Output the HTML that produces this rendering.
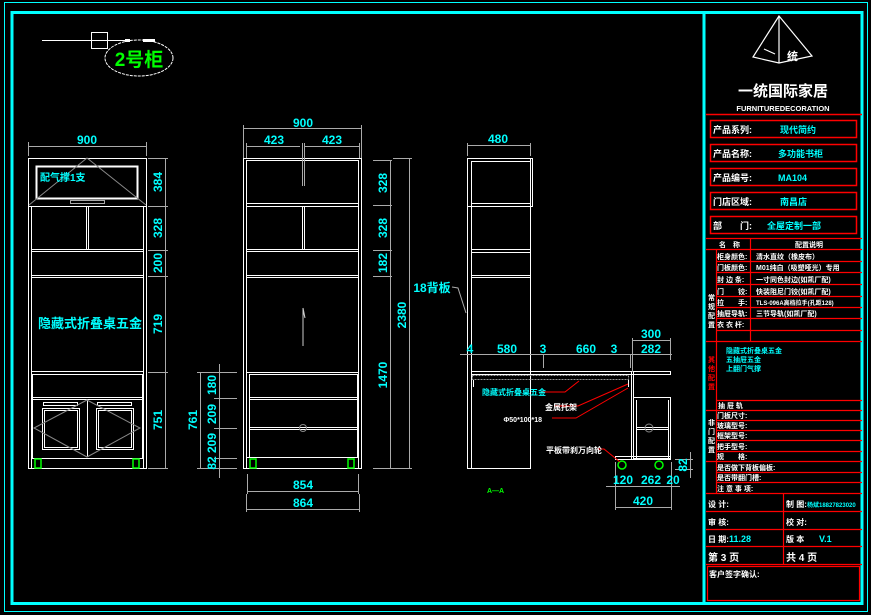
<!DOCTYPE html>
<html><head><meta charset="utf-8"><style>
html,body{margin:0;padding:0;background:#000;}
svg{display:block}
text{font-family:"Liberation Sans","Noto Sans CJK SC",sans-serif;font-weight:bold}
.c{fill:#00ffff}.w{fill:#fff}.g{fill:#00ff00}.r{fill:#ff0000}
</style></head><body>
<svg width="871" height="615" viewBox="0 0 871 615" xmlns="http://www.w3.org/2000/svg">
<rect width="871" height="615" fill="#000"/>
<!-- borders -->
<rect x="4.5" y="2.5" width="863" height="609" fill="none" stroke="#00ffff" stroke-width="1"/>
<rect x="12" y="12.5" width="850" height="591" fill="none" stroke="#00ffff" stroke-width="3"/>
<line x1="704" y1="12" x2="704" y2="603" stroke="#00ffff" stroke-width="3"/>

<!-- label 2号柜 -->
<line x1="42" y1="40.5" x2="130" y2="40.5" stroke="#fff"/>
<rect x="91.5" y="32.5" width="16" height="16" fill="none" stroke="#fff"/>
<rect x="125" y="39" width="5" height="3" fill="#fff"/><rect x="143" y="39" width="12" height="3" fill="#fff"/>
<ellipse cx="139" cy="58" rx="34" ry="18" fill="none" stroke="#fff" stroke-dasharray="3,1"/>
<text x="139" y="66" class="g" font-size="19" text-anchor="middle">2号柜</text>

<g stroke="#fff" fill="none" stroke-width="1">
<!-- left elevation -->
<rect x="28.5" y="158.5" width="118" height="310"/>
<rect x="36.5" y="166.5" width="101" height="32" stroke-width="2"/>
<rect x="70.5" y="200.5" width="34" height="3" stroke="#aaa"/>
<polyline points="29,205 87,158 146,205" stroke="#888"/>
<line x1="29" y1="206.5" x2="146" y2="206.5"/>
<line x1="31.5" y1="207" x2="31.5" y2="468"/><line x1="143.5" y1="207" x2="143.5" y2="468"/>
<line x1="31" y1="249.5" x2="144" y2="249.5"/><line x1="31" y1="251.5" x2="144" y2="251.5"/>
<line x1="31" y1="275.5" x2="144" y2="275.5"/><line x1="31" y1="277.5" x2="144" y2="277.5"/>
<line x1="31" y1="371.5" x2="144" y2="371.5"/>
<line x1="86.5" y1="207" x2="86.5" y2="250"/><line x1="88.5" y1="207" x2="88.5" y2="250"/>
<rect x="32.5" y="374.5" width="110" height="84"/>
<line x1="33" y1="397.5" x2="142" y2="397.5"/><line x1="33" y1="399.5" x2="142" y2="399.5"/>
<line x1="87.5" y1="400" x2="87.5" y2="457"/>
<rect x="43.5" y="402.5" width="34" height="3"/><rect x="97.5" y="402.5" width="34" height="3"/>
<rect x="42.5" y="408.5" width="37" height="41"/><rect x="44.5" y="410.5" width="33" height="37"/>
<rect x="96.5" y="408.5" width="37" height="41"/><rect x="98.5" y="410.5" width="33" height="37"/>
<polyline points="87,400 34,428 87,457 140,428 87,400" stroke="#888"/>
<!-- dims left -->
<g stroke="#aaa">
<line x1="28" y1="146.5" x2="147" y2="146.5"/><line x1="28.5" y1="142" x2="28.5" y2="156"/><line x1="146.5" y1="142" x2="146.5" y2="156"/>
<line x1="165.5" y1="158" x2="165.5" y2="469"/>
<line x1="148" y1="158.5" x2="168" y2="158.5"/><line x1="148" y1="206.5" x2="168" y2="206.5"/><line x1="148" y1="250.5" x2="168" y2="250.5"/><line x1="148" y1="276.5" x2="168" y2="276.5"/><line x1="148" y1="372.5" x2="168" y2="372.5"/><line x1="148" y1="468.5" x2="168" y2="468.5"/>
</g>

<!-- middle elevation -->
<rect x="243.5" y="158.5" width="118" height="310"/>
<rect x="246.5" y="160.5" width="112" height="308"/>
<line x1="247" y1="203.5" x2="359" y2="203.5"/><line x1="247" y1="206.5" x2="359" y2="206.5"/>
<line x1="247" y1="249.5" x2="359" y2="249.5"/><line x1="247" y1="251.5" x2="359" y2="251.5"/>
<line x1="247" y1="275.5" x2="359" y2="275.5"/><line x1="247" y1="277.5" x2="359" y2="277.5"/>
<line x1="247" y1="372.5" x2="359" y2="372.5"/>
<line x1="302.5" y1="207" x2="302.5" y2="250"/><line x1="304.5" y1="207" x2="304.5" y2="250"/>
<line x1="249.5" y1="374" x2="249.5" y2="457"/><line x1="357.5" y1="374" x2="357.5" y2="457"/>
<line x1="249" y1="374.5" x2="358" y2="374.5"/>
<line x1="249" y1="397.5" x2="358" y2="397.5"/><line x1="249" y1="399.5" x2="358" y2="399.5"/>
<line x1="249" y1="427.5" x2="358" y2="427.5"/><line x1="249" y1="429.5" x2="358" y2="429.5"/>
<line x1="247" y1="457.5" x2="359" y2="457.5"/>
<circle cx="303" cy="428" r="3.5" stroke="#888"/>
<polyline points="303,308 305,318 303,310" stroke="#ccc"/><line x1="303" y1="308" x2="303" y2="346" stroke="#ccc"/>
<g stroke="#aaa">
<line x1="243" y1="128.5" x2="362" y2="128.5"/><line x1="243.5" y1="125" x2="243.5" y2="158"/><line x1="361.5" y1="125" x2="361.5" y2="158"/>
<line x1="246" y1="146.5" x2="300" y2="146.5"/><line x1="305" y1="146.5" x2="359" y2="146.5"/>
<line x1="246.5" y1="143" x2="246.5" y2="158"/><line x1="302.5" y1="143" x2="302.5" y2="186"/><line x1="304.5" y1="143" x2="304.5" y2="186"/><line x1="359.5" y1="143" x2="359.5" y2="158"/>
<line x1="390.5" y1="160" x2="390.5" y2="469"/>
<line x1="373" y1="160.5" x2="392" y2="160.5"/><line x1="373" y1="205.5" x2="392" y2="205.5"/><line x1="373" y1="250.5" x2="392" y2="250.5"/><line x1="373" y1="276.5" x2="392" y2="276.5"/><line x1="373" y1="468.5" x2="412" y2="468.5"/>
<line x1="409.5" y1="158" x2="409.5" y2="469"/><line x1="393" y1="158.5" x2="412" y2="158.5"/>
<line x1="200.5" y1="372" x2="200.5" y2="469"/><line x1="197" y1="372.5" x2="237" y2="372.5"/><line x1="197" y1="468.5" x2="237" y2="468.5"/>
<line x1="219.5" y1="364" x2="219.5" y2="478"/>
<line x1="214" y1="398.5" x2="237" y2="398.5"/><line x1="214" y1="428.5" x2="237" y2="428.5"/><line x1="214" y1="458.5" x2="237" y2="458.5"/>
<line x1="247" y1="491.5" x2="358" y2="491.5"/><line x1="247.5" y1="474" x2="247.5" y2="494"/><line x1="358.5" y1="474" x2="358.5" y2="494"/>
<line x1="246" y1="509.5" x2="359" y2="509.5"/><line x1="246.5" y1="494" x2="246.5" y2="512"/><line x1="359.5" y1="494" x2="359.5" y2="512"/>
<polyline points="452,287 458,288 466,313" />
</g>

<!-- side view -->
<rect x="467.5" y="158.5" width="63" height="310"/>
<line x1="471.5" y1="162" x2="471.5" y2="468"/>
<rect x="467.5" y="158.5" width="65" height="48"/>
<line x1="471" y1="161.5" x2="531" y2="161.5"/>
<line x1="471" y1="203.5" x2="531" y2="203.5"/>
<line x1="471" y1="249.5" x2="531" y2="249.5"/><line x1="471" y1="252.5" x2="531" y2="252.5"/>
<line x1="471" y1="275.5" x2="531" y2="275.5"/><line x1="471" y1="277.5" x2="531" y2="277.5"/>
<rect x="471.5" y="371.5" width="199" height="3"/>
<rect x="472.5" y="375.5" width="156" height="4" stroke="#999" stroke-dasharray="2,1"/>
<line x1="473.5" y1="380" x2="473.5" y2="387"/><line x1="628.5" y1="380" x2="628.5" y2="387"/>
<line x1="631.5" y1="372" x2="631.5" y2="459"/><line x1="633.5" y1="372" x2="633.5" y2="459"/>
<rect x="633.5" y="397.5" width="37" height="61"/><line x1="636.5" y1="400" x2="636.5" y2="458"/><line x1="668.5" y1="400" x2="668.5" y2="458"/>
<line x1="636" y1="427.5" x2="668" y2="427.5"/><line x1="636" y1="429.5" x2="668" y2="429.5"/>
<circle cx="649" cy="428" r="4" stroke="#888"/>
<rect x="615.5" y="456.5" width="55" height="3"/>
<g stroke="#aaa">
<line x1="467" y1="145.5" x2="531" y2="145.5"/><line x1="467.5" y1="143" x2="467.5" y2="156"/><line x1="530.5" y1="143" x2="530.5" y2="156"/>
<line x1="460" y1="354.5" x2="672" y2="354.5"/>
<line x1="543.5" y1="354" x2="543.5" y2="368"/><line x1="630.5" y1="354" x2="630.5" y2="368"/>
<line x1="632" y1="340.5" x2="671" y2="340.5"/><line x1="632.5" y1="338" x2="632.5" y2="372"/><line x1="670.5" y1="338" x2="670.5" y2="360"/>
<line x1="606" y1="486.5" x2="680" y2="486.5"/><line x1="615.5" y1="462" x2="615.5" y2="510"/><line x1="671.5" y1="462" x2="671.5" y2="510"/>
<line x1="615" y1="507.5" x2="671" y2="507.5"/>
<line x1="675" y1="459.5" x2="693" y2="459.5"/><line x1="675" y1="469.5" x2="693" y2="469.5"/><line x1="690.5" y1="452" x2="690.5" y2="478"/>
</g>
</g>
<!-- feet -->
<g stroke="#00ff00" fill="none" stroke-width="1.5">
<rect x="35" y="459" width="6" height="9"/><rect x="133" y="459" width="6" height="9"/>
<rect x="250" y="459" width="6" height="9"/><rect x="348" y="459" width="6" height="9"/>
<circle cx="622" cy="465" r="4"/><circle cx="659" cy="465" r="4"/>
</g>
<!-- red leaders -->
<g stroke="#ff0000" fill="none">
<polyline points="541,392 565,392 579,381"/>
<polyline points="554,406 578,406 628,384"/>
<polyline points="552,418 576,418 628,388"/>
<polyline points="597,449 604,449 620,462"/>
</g>

<!-- texts -->
<text x="40" y="181" class="c" font-size="10">配气撑1支</text>
<text x="90" y="328" class="c" font-size="13" text-anchor="middle">隐藏式折叠桌五金</text>
<g class="c" font-size="12" text-anchor="middle">
<text x="87" y="144">900</text>
<text x="303" y="127">900</text><text x="274" y="144">423</text><text x="332" y="144">423</text>
<text x="498" y="143">480</text>
<text x="303" y="489">854</text><text x="303" y="507">864</text>
<text x="470" y="353">4</text><text x="507" y="353">580</text><text x="543" y="353">3</text><text x="586" y="353">660</text><text x="614" y="353">3</text>
<text x="651" y="338">300</text><text x="651" y="353">282</text>
<text x="623" y="484">120</text><text x="651" y="484">262</text><text x="673" y="484">20</text>
<text x="643" y="505">420</text>
<text x="432" y="292">18背板</text>
<g font-size="12">
<text transform="translate(162,182) rotate(-90)">384</text>
<text transform="translate(162,228) rotate(-90)">328</text>
<text transform="translate(162,263) rotate(-90)">200</text>
<text transform="translate(162,324) rotate(-90)">719</text>
<text transform="translate(162,420) rotate(-90)">751</text>
<text transform="translate(387,183) rotate(-90)">328</text>
<text transform="translate(387,228) rotate(-90)">328</text>
<text transform="translate(387,263) rotate(-90)">182</text>
<text transform="translate(387,375) rotate(-90)">1470</text>
<text transform="translate(406,315) rotate(-90)">2380</text>
<text transform="translate(197,420) rotate(-90)">761</text>
<text transform="translate(216,385) rotate(-90)">180</text>
<text transform="translate(216,414) rotate(-90)">209</text>
<text transform="translate(216,443) rotate(-90)">209</text>
<text transform="translate(216,463) rotate(-90)">82</text>
<text transform="translate(687,465) rotate(-90)">82</text>
</g>
</g>
<text x="482" y="395" class="c" font-size="8">隐藏式折叠桌五金</text>
<text x="545" y="410" class="w" font-size="8">金属托架</text>
<text x="542" y="422" class="w" font-size="7" text-anchor="end">Φ50*100*18</text>
<text x="546" y="453" class="w" font-size="8">平板带刹万向轮</text>
<text x="487" y="493" class="g" font-size="7" font-weight="normal">A—A</text>

<!-- title block -->
<g stroke="#fff" fill="none" stroke-width="1.2">
<polygon points="779,16 753,57 779,63 812,56"/><line x1="779" y1="16" x2="779" y2="63"/>
<line x1="764" y1="49" x2="775" y2="54"/>
</g>
<text x="787" y="60" class="w" font-size="11">统</text>
<text x="783" y="96" class="w" font-size="15" text-anchor="middle">一统国际家居</text>
<text x="783" y="111" class="w" font-size="7.5" text-anchor="middle">FURNITUREDECORATION</text>
<g stroke="#ff0000" fill="none" stroke-width="1.5">
<line x1="706" y1="114.5" x2="862" y2="114.5"/>
<rect x="710.5" y="120.5" width="146" height="17"/>
<rect x="710.5" y="144.5" width="146" height="17"/>
<rect x="710.5" y="168.5" width="146" height="17"/>
<rect x="710.5" y="192.5" width="146" height="17"/>
<rect x="710.5" y="216.5" width="146" height="17"/>
<g stroke-width="1.2">
<line x1="706" y1="238.5" x2="862" y2="238.5"/><line x1="706" y1="249.5" x2="862" y2="249.5"/>
<line x1="716" y1="261.5" x2="862" y2="261.5"/><line x1="716" y1="272.5" x2="862" y2="272.5"/>
<line x1="716" y1="284.5" x2="862" y2="284.5"/><line x1="716" y1="296.5" x2="862" y2="296.5"/>
<line x1="716" y1="307.5" x2="862" y2="307.5"/><line x1="716" y1="318.5" x2="862" y2="318.5"/>
<line x1="716" y1="330.5" x2="862" y2="330.5"/><line x1="706" y1="341.5" x2="862" y2="341.5"/>
<line x1="716" y1="400.5" x2="862" y2="400.5"/><line x1="706" y1="410.5" x2="862" y2="410.5"/>
<line x1="716" y1="420.5" x2="862" y2="420.5"/><line x1="716" y1="430.5" x2="862" y2="430.5"/>
<line x1="716" y1="440.5" x2="862" y2="440.5"/><line x1="716" y1="451.5" x2="862" y2="451.5"/>
<line x1="706" y1="461.5" x2="862" y2="461.5"/><line x1="716" y1="472.5" x2="862" y2="472.5"/>
<line x1="716" y1="482.5" x2="862" y2="482.5"/><line x1="706" y1="493.5" x2="862" y2="493.5"/>
<line x1="706" y1="511.5" x2="862" y2="511.5"/><line x1="706" y1="529.5" x2="862" y2="529.5"/>
<line x1="706" y1="546.5" x2="862" y2="546.5"/><line x1="706" y1="564.5" x2="862" y2="564.5"/>
<line x1="716.5" y1="249" x2="716.5" y2="493"/>
<line x1="750.5" y1="238" x2="750.5" y2="341"/>
<line x1="783.5" y1="493" x2="783.5" y2="564"/>
<rect x="707.5" y="566.5" width="152" height="34"/>
</g>
</g>
<g class="w" font-size="9">
<text x="713" y="133">产品系列:</text><text x="713" y="157">产品名称:</text><text x="713" y="181">产品编号:</text><text x="713" y="205">门店区域:</text><text x="713" y="229">部　　门:</text>
</g>
<g class="c" font-size="9">
<text x="780" y="133">现代简约</text><text x="778" y="157">多功能书柜</text><text x="778" y="181">MA104</text><text x="780" y="205">南昌店</text><text x="767" y="229">全屋定制一部</text>
</g>
<g class="w" font-size="7">
<text x="719" y="247">名　称</text><text x="795" y="247">配置说明</text>
<text x="717" y="259">柜身颜色:</text><text x="756" y="259">清水直纹（橡皮布）</text>
<text x="717" y="270">门板颜色:</text><text x="756" y="270">M01纯白（吸塑哑光）专用</text>
<text x="717" y="282">封 边 条:</text><text x="756" y="282">一寸同色封边(如凯厂配)</text>
<text x="717" y="294">门　　铰:</text><text x="756" y="294">快装阻尼门铰(如凯厂配)</text>
<text x="717" y="305">拉　　手:</text><text x="756" y="305" font-size="6">TLS-096A高档拉手(孔距128)</text>
<text x="717" y="316">抽屉导轨:</text><text x="756" y="316">三节导轨(如凯厂配)</text>
<text x="717" y="327">衣 衣 杆:</text>
<text x="718" y="408">抽 屉 轨</text>
<text x="717" y="418">门板尺寸:</text><text x="717" y="428">玻璃型号:</text><text x="717" y="438">框架型号:</text><text x="717" y="449">把手型号:</text><text x="717" y="459">规　　格:</text>
<text x="717" y="470">是否做下背板偏板:</text><text x="717" y="480">是否带翻门槽:</text><text x="717" y="491">注 意 事 项:</text>
<text x="708" y="507" font-size="8">设 计:</text><text x="786" y="507" font-size="8">制 图:</text><text x="708" y="525" font-size="8">审 核:</text><text x="786" y="525" font-size="8">校 对:</text>
<text x="708" y="542" font-size="8">日 期:</text><text x="786" y="542" font-size="8">版 本</text>
<text x="708" y="561" font-size="10">第 3 页</text><text x="786" y="561" font-size="10">共 4 页</text>
<text x="709" y="577" font-size="8">客户签字确认:</text>
</g>
<g class="w" font-size="7"><text x="708" y="300">常</text><text x="708" y="309">规</text><text x="708" y="318">配</text><text x="708" y="327">置</text>
<text x="708" y="425">非</text><text x="708" y="434">门</text><text x="708" y="443">配</text><text x="708" y="452">置</text></g>
<g class="r" font-size="7"><text x="708" y="362">其</text><text x="708" y="371">他</text><text x="708" y="380">配</text><text x="708" y="389">置</text></g>
<g class="c" font-size="7"><text x="726" y="353">隐藏式折叠桌五金</text><text x="726" y="362">五抽屉五金</text><text x="726" y="371">上翻门气撑</text>
<text x="807" y="507" font-size="6">杨斌18827823020</text><text x="729" y="542" font-size="9">11.28</text><text x="819" y="542" font-size="9">V.1</text></g>
</svg>
</body></html>
